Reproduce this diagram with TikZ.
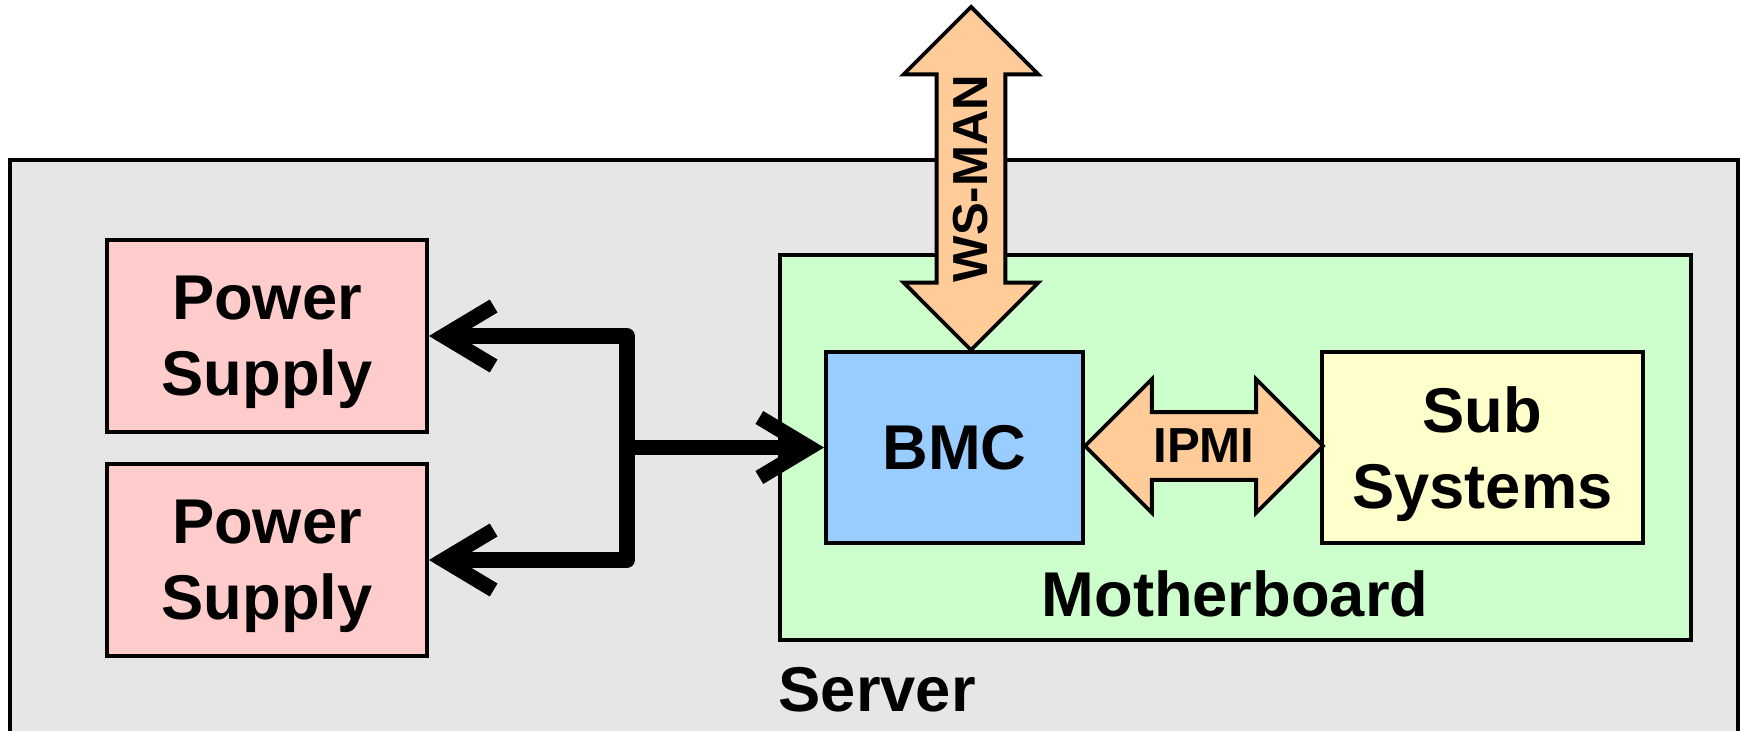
\documentclass[tikz,border=0pt]{standalone}
\usepackage{fontspec}
\setmainfont{Liberation Sans}
\usetikzlibrary{shapes.arrows,arrows.meta}
\definecolor{servergray}{HTML}{E6E6E6}
\definecolor{psred}{HTML}{FFCCCC}
\definecolor{mbgreen}{HTML}{CCFFCC}
\definecolor{bmcblue}{HTML}{99CCFF}
\definecolor{subyellow}{HTML}{FFFFCC}
\definecolor{linkpeach}{HTML}{FFCC99}

\begin{document}
\begin{tikzpicture}[font=\fontsize{18}{21.6}\selectfont\bfseries,
    box/.style={draw, line width=1.1pt, inner sep=0pt, align=center, text depth=0pt},
    link/.style={double arrow, draw, fill=linkpeach, line width=1.1pt,
      double arrow tip angle=90, double arrow head extend=0.33cm,
      inner xsep=0pt, inner ysep=0.15cm, font=\fontsize{14}{16.8}\selectfont\bfseries},
    power/.style={line width=4.3pt, line join=round, line cap=round}]
      \useasboundingbox (0,0) rectangle (17.43,-7.31);

      % Server
      \node (server) at (8.74,-4.60) [box, fill=servergray, minimum width=17.28cm, minimum height=6cm] {};
      \node (serverlabel) at (7.78,-7.12) [anchor=base west, inner sep=0pt] {Server};

      % Power Supply
      \node (ps1) at (2.67,-3.36) [box, fill=psred, minimum width=3.2cm, minimum height=1.92cm] {Power\\Supply};
      \node (ps2) at (2.67,-5.60) [box, fill=psred, minimum width=3.2cm, minimum height=1.92cm] {Power\\Supply};

      % Motherboard
      \node (mb) at (12.355,-4.475) [box, fill=mbgreen, minimum width=9.11cm, minimum height=3.85cm] {};
      \node (mblabel) at (12.35,-6.17) [anchor=base, inner sep=0pt] {Motherboard};

      \node (wsman) at (9.71,-1.785) [link, rotate=90, minimum height=3.43cm] {WS-MAN};

      \node (bmc) at (9.545,-4.475) [box, fill=bmcblue, minimum width=2.57cm, minimum height=1.91cm] {BMC};
      \node (sub) at (14.825,-4.475) [box, fill=subyellow, minimum width=3.21cm, minimum height=1.91cm] {Sub\\Systems};

      \node (ipmi) at (12.04,-4.46) [link, minimum height=2.38cm] {IPMI};

      % power bus
      \coordinate (bus) at (6.27,-4.475);
      \draw[power, {Straight Barb[length=5mm,width=6mm]}-{Straight Barb[length=5mm,width=6mm]}]
      (ps1.east) -| (bus) |- (ps2.east);
      \draw[power, -{Straight Barb[length=5mm,width=6mm]}] (bus) to (bmc.west);

    \end{tikzpicture}
\end{document}
